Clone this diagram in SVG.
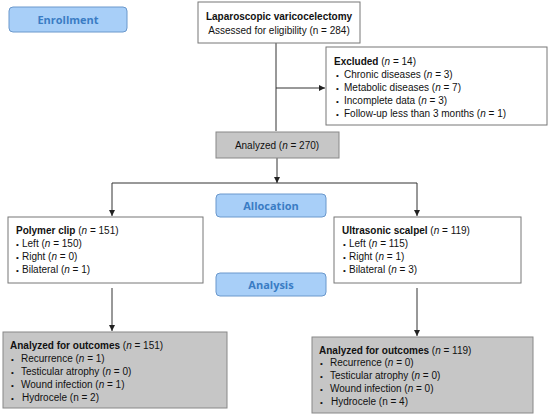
<svg xmlns="http://www.w3.org/2000/svg" width="550" height="417" viewBox="0 0 550 417">
<defs>
<marker id="ah" viewBox="0 0 6 6" refX="6" refY="3" markerWidth="6" markerHeight="6" orient="auto" markerUnits="userSpaceOnUse">
<path d="M0,0 L6,3 L0,6 z" fill="#222"/>
</marker>
<style>
.box{fill:#fff;stroke:#777;stroke-width:1}
.gbox{fill:#c6c6c6;stroke:#888;stroke-width:1}
.bbox{fill:#a8cff8;stroke:#6a98cc;stroke-width:1}
.t{font-family:"Liberation Sans",Arial,sans-serif;font-size:10px;fill:#111}
.d{font-size:8px}
.b{font-weight:bold}
.i{font-style:italic}
.bl{font-family:"Open Sans","DejaVu Sans",sans-serif;font-size:11px;font-weight:bold;fill:#3a7cc4}
.c{fill:none;stroke:#333;stroke-width:1}
</style>
</defs>
<g id="connectors">
<path class="c" d="M276,43 V131"/>
<path class="c" d="M276,88 H325" marker-end="url(#ah)"/>
<path class="c" d="M277,158 V183" marker-end="url(#ah)"/>
<path class="c" d="M112,183 H417"/>
<path class="c" d="M112,183 V216" marker-end="url(#ah)"/>
<path class="c" d="M417,183 V216" marker-end="url(#ah)"/>
<path class="c" d="M112,288 V331" marker-end="url(#ah)"/>
<path class="c" d="M417,288 V336" marker-end="url(#ah)"/>
</g>
<g id="enrollment">
<rect class="bbox" x="9" y="7" width="118" height="25" rx="4"/>
<text class="bl" x="68" y="24" text-anchor="middle">Enrollment</text>
</g>
<g id="assessed">
<rect class="box" x="198" y="2" width="162" height="41"/>
<text class="t b" x="279" y="20" text-anchor="middle">Laparoscopic varicocelectomy</text>
<text class="t" x="279" y="34" text-anchor="middle">Assessed for eligibility (n = 284)</text>
</g>
<g id="excluded">
<rect class="box" x="326" y="47" width="221" height="78"/>
<text class="t" x="334" y="65"><tspan class="b">Excluded</tspan> (<tspan class="i">n</tspan> = 14)</text>
<text class="t" y="78"><tspan class="d" x="336">•</tspan><tspan x="344">Chronic diseases (<tspan class="i">n</tspan> = 3)</tspan></text>
<text class="t" y="91"><tspan class="d" x="336">•</tspan><tspan x="344">Metabolic diseases (<tspan class="i">n</tspan> = 7)</tspan></text>
<text class="t" y="104"><tspan class="d" x="336">•</tspan><tspan x="344">Incomplete data (<tspan class="i">n</tspan> = 3)</tspan></text>
<text class="t" y="117"><tspan class="d" x="336">•</tspan><tspan x="344">Follow-up less than 3 months (<tspan class="i">n</tspan> = 1)</tspan></text>
</g>
<g id="analyzed">
<rect class="gbox" x="216" y="132" width="123" height="26"/>
<text class="t" x="277" y="149" text-anchor="middle">Analyzed (<tspan class="i">n</tspan> = 270)</text>
</g>
<g id="allocation">
<rect class="bbox" x="216" y="194" width="110" height="23" rx="4"/>
<text class="bl" x="271" y="210" text-anchor="middle">Allocation</text>
</g>
<g id="polymer">
<rect class="box" x="8" y="217" width="195" height="66"/>
<text class="t" x="16" y="234"><tspan class="b">Polymer clip</tspan> (<tspan class="i">n</tspan> = 151)</text>
<text class="t" y="247"><tspan class="d" x="16">•</tspan><tspan x="22">Left (<tspan class="i">n</tspan> = 150)</tspan></text>
<text class="t" y="260"><tspan class="d" x="16">•</tspan><tspan x="22">Right (<tspan class="i">n</tspan> = 0)</tspan></text>
<text class="t" y="273"><tspan class="d" x="16">•</tspan><tspan x="22">Bilateral (<tspan class="i">n</tspan> = 1)</tspan></text>
</g>
<g id="ultrasonic">
<rect class="box" x="334" y="217" width="187" height="66"/>
<text class="t" x="342" y="234"><tspan class="b">Ultrasonic scalpel</tspan> (<tspan class="i">n</tspan> = 119)</text>
<text class="t" y="247"><tspan class="d" x="343">•</tspan><tspan x="349">Left (<tspan class="i">n</tspan> = 115)</tspan></text>
<text class="t" y="260"><tspan class="d" x="343">•</tspan><tspan x="349">Right (<tspan class="i">n</tspan> = 1)</tspan></text>
<text class="t" y="273"><tspan class="d" x="343">•</tspan><tspan x="349">Bilateral (<tspan class="i">n</tspan> = 3)</tspan></text>
</g>
<g id="analysis">
<rect class="bbox" x="216" y="273" width="110" height="23" rx="4"/>
<text class="bl" x="271" y="289" text-anchor="middle">Analysis</text>
</g>
<g id="outcomes-left">
<rect class="gbox" x="3" y="332" width="224" height="76"/>
<text class="t" x="10" y="349"><tspan class="b">Analyzed for outcomes</tspan> (<tspan class="i">n</tspan> = 151)</text>
<text class="t" y="362"><tspan class="d" x="11">•</tspan><tspan x="21">Recurrence (<tspan class="i">n</tspan> = 1)</tspan></text>
<text class="t" y="375"><tspan class="d" x="11">•</tspan><tspan x="21">Testicular atrophy (<tspan class="i">n</tspan> = 0)</tspan></text>
<text class="t" y="388"><tspan class="d" x="11">•</tspan><tspan x="21">Wound infection (<tspan class="i">n</tspan> = 1)</tspan></text>
<text class="t" y="401"><tspan class="d" x="11">•</tspan><tspan x="22">Hydrocele (n = 2)</tspan></text>
</g>
<g id="outcomes-right">
<rect class="gbox" x="312" y="337" width="221" height="76"/>
<text class="t" x="319" y="354"><tspan class="b">Analyzed for outcomes</tspan> (<tspan class="i">n</tspan> = 119)</text>
<text class="t" y="366"><tspan class="d" x="320">•</tspan><tspan x="330">Recurrence (<tspan class="i">n</tspan> = 0)</tspan></text>
<text class="t" y="379"><tspan class="d" x="320">•</tspan><tspan x="330">Testicular atrophy (<tspan class="i">n</tspan> = 0)</tspan></text>
<text class="t" y="392"><tspan class="d" x="320">•</tspan><tspan x="330">Wound infection (<tspan class="i">n</tspan> = 0)</tspan></text>
<text class="t" y="405"><tspan class="d" x="320">•</tspan><tspan x="331">Hydrocele (n = 4)</tspan></text>
</g>
</svg>
